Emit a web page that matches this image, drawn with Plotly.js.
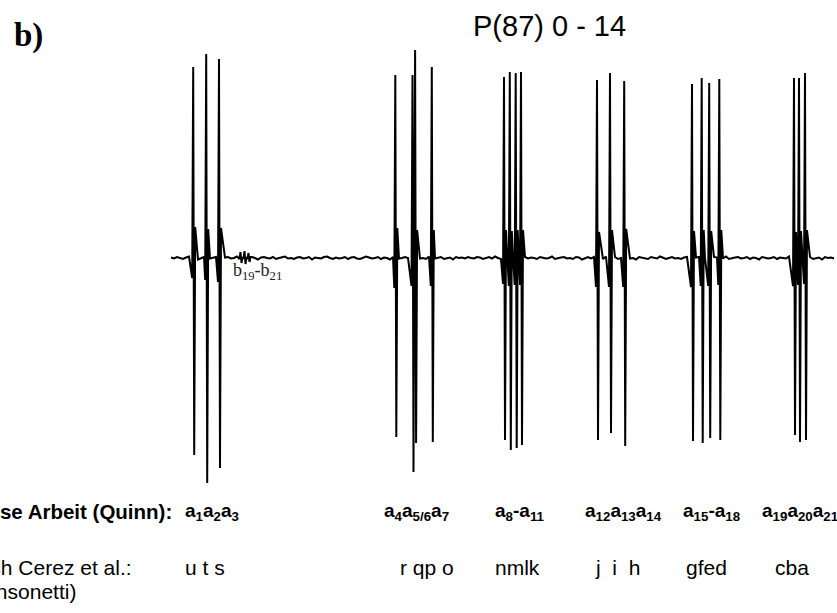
<!DOCTYPE html>
<html>
<head>
<meta charset="utf-8">
<script src="https://cdn.plot.ly/plotly-3.0.1.min.js"></script>
<style>html,body{margin:0;padding:0;background:#fff;}#chart{width:837px;height:613px;}</style>
</head>
<body>
<div id="chart"></div>
<script>
// Peak centres (arbitrary spectral units) and lobe amplitudes (arbitrary intensity units)
const peakPos  = [23.7, 36.7, 49.5, 71, 75, 79, 225.8, 243, 245.6, 262.3, 334.5, 340.3, 346.2, 351.5, 427.5, 440.5, 454.7, 522.5, 532.2, 539.7, 549.8, 624.5, 629.5, 635.5];
const peakUp   = [191, 204, 199, 6, 7, 5, 183, 183, 208, 191, 181, 186, 185, 186, 178, 185, 177, 174, 180, 175, 179, 180, 180, 185];
const peakDown = [-197, -225, -210, -5, -6, -4, -179, -214, -185, -184, -182, -192, -190, -187, -182, -175, -188, -183, -185, -180, -182, -177, -184, -182];
const peakDip  = [-20, -22, -24, -1, -1, -1, -30, -28, -26, -28, -26, -28, -27, -27, -29, -29, -29, -29, -28, -28, -27, -28, -27, -26];
const peakBump = [31, 29, 30, 1, 1, 1, 30, 28, 28, 28, 28, 27, 28, 28, 26, 28, 29, 27, 28, 27, 28, 26, 27, 28];

// Baseline (noise) samples
const baseStart = 1, baseStep = 3;
const baseNoise = [
0.5,-0.5,1,0,-1,0.5,1.5,0,-0.5,-1.5,0,1,0.5,-0.5,0,1,-1,-0.5,0.5,1,
-0.5,0,1.5,0.5,-1,0,-0.5,1,0,-1.5,0.5,1,0,-0.5,1,-1,0,0.5,1.5,-0.5,
0,-1,0.5,1,-0.5,0,1,-1.5,0.5,0,-0.5,1,1.5,0,-1,0.5,-0.5,0,1,-1,
0.5,1,-0.5,-1,0,1.5,0.5,-0.5,0,1,-1,0.5,0,-1.5,1,0.5,-0.5,0,1,0,
-1,0.5,1,-0.5,0,-1,1.5,0,-0.5,0.5,1,-1,0,0.5,-1.5,1,0,0.5,-0.5,1,
0,-0.5,1,0.5,-1,0,1,-0.5,1.5,0,-1,0.5,0,-0.5,1,0,-1.5,0.5,1,-0.5,
0.5,0,-1,1,0.5,-0.5,0,1.5,-1,0,0.5,1,-0.5,0,-1,1,0.5,-1.5,0,1,
-0.5,1,0,0.5,-1,1.5,0,-0.5,1,-1,0,0.5,1,-0.5,0,-1.5,1,0.5,0,-1,
1,0,-0.5,1.5,0.5,-1,0,1,-0.5,0,-1,0.5,1,0,-1.5,0.5,1,-0.5,0,0.5,
-1,1,0.5,0,-0.5,1.5,-1,0,0.5,1,-0.5,0,1,-1,0.5,0,-1.5,1,0.5,-0.5,
0,1,-1,0.5,0,-0.5,1.5,0,-1,0.5,1,0,-0.5,1,-1,0,0.5,-1.5,1,0,
0.5,-0.5];

// Labels
const titleText = 'P(87) 0 - 14';
const panelLabel = 'b)';
const rowQuinnHead = 'Diese Arbeit (Quinn):';
const rowQuinn = ['a<sub>1</sub>a<sub>2</sub>a<sub>3</sub>', 'a<sub>4</sub>a<sub>5/6</sub>a<sub>7</sub>', 'a<sub>8</sub>-a<sub>11</sub>', 'a<sub>12</sub>a<sub>13</sub>a<sub>14</sub>', 'a<sub>15</sub>-a<sub>18</sub>', 'a<sub>19</sub>a<sub>20</sub>a<sub>21</sub>'];
const rowCerezHead = 'nach Cerez et al.:';
const rowCerezHead2 = '(Consonetti)';
const rowCerez = ['u t s', 'r qp o', 'nmlk', 'j &nbsp;i &nbsp;h', 'gfed', 'cba'];
const bLabel = 'b<sub>19</sub>-b<sub>21</sub>';

// build trace
const pts = [];
baseNoise.forEach((v, i) => {
  const x = baseStart + i * baseStep;
  const near = peakPos.some((p, k) => Math.abs(x - p) < (Math.abs(peakUp[k]) > 20 ? 2.6 : 2.0));
  if (!near) pts.push([x, v]);
});
peakPos.forEach((p, k) => {
  pts.push([p - 1.5, peakDip[k]]);
  pts.push([p - 0.5, peakUp[k]]);
  pts.push([p + 0.5, peakDown[k]]);
  pts.push([p + 1.5, peakBump[k]]);
});
pts.sort((a, b) => a[0] - b[0]);

const W = 837, H = 613;
const px = x => x / W;
const py = y => 1 - y / H;
const sans = 'Liberation Sans, Arial, Helvetica, sans-serif';
const serif = 'Liberation Serif, Times New Roman, serif';

const qx = [183, 382, 493, 583, 681, 760];
const cx = [183, 398, 493, 593, 684, 773];
const ann = [];
ann.push({text: panelLabel, x: px(12), y: py(36), xanchor: 'left', yanchor: 'middle', font: {family: serif, size: 33, color: '#000', weight: 'bold'}});
ann.push({text: titleText, x: px(549), y: py(26), xanchor: 'center', yanchor: 'middle', font: {family: sans, size: 29, color: '#000'}});
ann.push({text: rowQuinnHead, x: px(174), y: py(511), xanchor: 'right', yanchor: 'middle', font: {family: sans, size: 20.5, color: '#000', weight: 'bold'}});
rowQuinn.forEach((t, i) => ann.push({text: t, x: px(qx[i]), y: py(512), xanchor: 'left', yanchor: 'middle', font: {family: sans, size: 19, color: '#000', weight: 'bold'}}));
ann.push({text: rowCerezHead, x: px(134), y: py(567), xanchor: 'right', yanchor: 'middle', font: {family: sans, size: 21, color: '#000'}});
ann.push({text: rowCerezHead2, x: px(78), y: py(591), xanchor: 'right', yanchor: 'middle', font: {family: sans, size: 21, color: '#000'}});
rowCerez.forEach((t, i) => ann.push({text: t, x: px(cx[i]), y: py(567), xanchor: 'left', yanchor: 'middle', font: {family: sans, size: 21, color: '#000'}}));
ann.push({text: bLabel, x: px(231), y: py(271), xanchor: 'left', yanchor: 'middle', font: {family: serif, size: 18, color: '#222'}});
ann.forEach(a => { a.xref = 'paper'; a.yref = 'paper'; a.showarrow = false; });

Plotly.newPlot('chart', [{
  x: pts.map(p => p[0]), y: pts.map(p => p[1]),
  type: 'scatter', mode: 'lines',
  line: {color: '#000', width: 2},
  hoverinfo: 'skip'
}], {
  width: W, height: H,
  margin: {l: 0, r: 0, t: 0, b: 0},
  paper_bgcolor: '#fff', plot_bgcolor: '#fff',
  showlegend: false,
  xaxis: {range: [-170, 667], visible: false, fixedrange: true},
  yaxis: {range: [-355, 258], visible: false, fixedrange: true},
  annotations: ann
}, {displayModeBar: false, staticPlot: true});
</script>
</body>
</html>
